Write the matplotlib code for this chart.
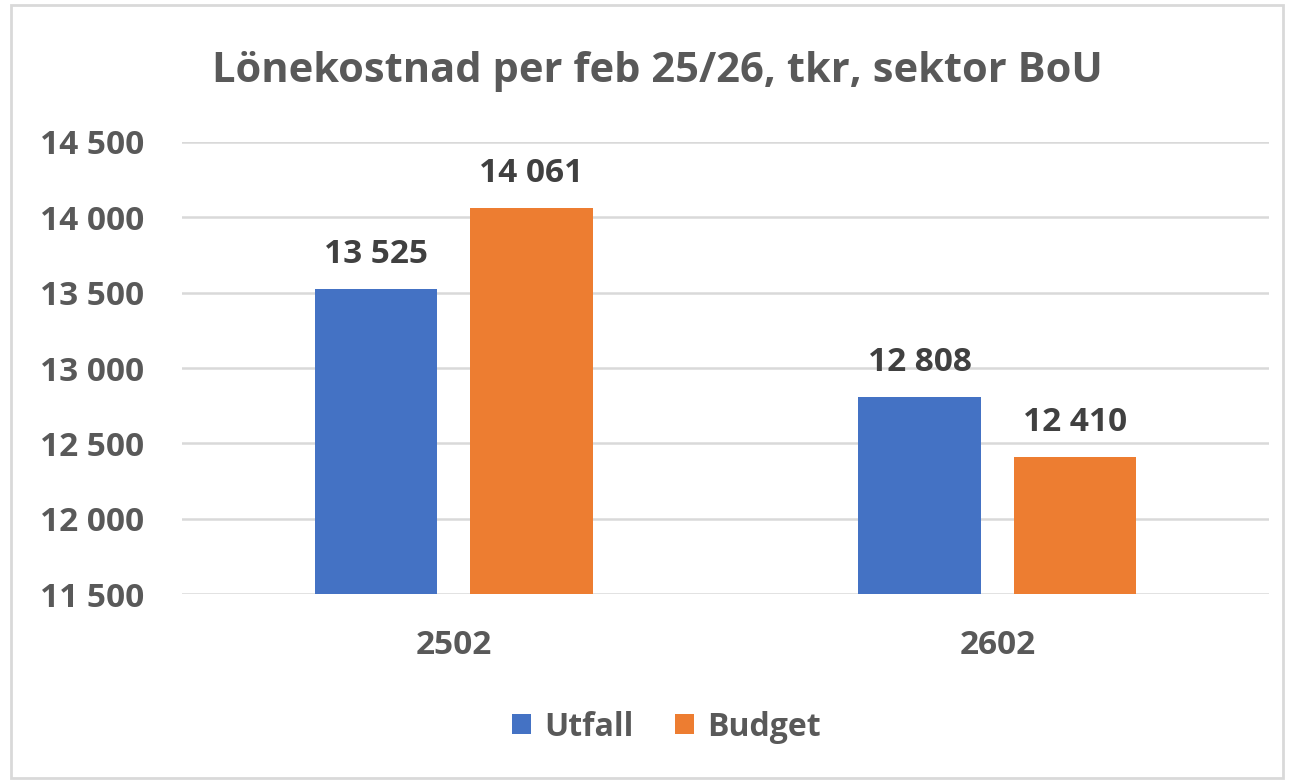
import matplotlib.pyplot as plt
import numpy as np
from matplotlib.patches import Rectangle

plt.rcParams['font.family'] = ['Open Sans', 'DejaVu Sans']

# data
kategorier = ['2502', '2602']
utfall = [13525, 12808]
budget = [14061, 12410]
serier = ['Utfall', 'Budget']
farger = ['#4472C4', '#ED7D31']
yticks = [11500, 12000, 12500, 13000, 13500, 14000, 14500]

gra = '#595959'

fig = plt.figure(figsize=(12.89, 7.81), dpi=100)
ax = fig.add_axes([0.1412, 0.2394, 0.8433, 0.5788])

x = np.arange(len(kategorier))
b = 0.225
off = 0.143
bars1 = ax.bar(x - off, utfall, b, color=farger[0], label=serier[0], zorder=3)
bars2 = ax.bar(x + off, budget, b, color=farger[1], label=serier[1], zorder=3)

def fmt(v):
    return f'{v:,}'.replace(',', ' ')

for bars in (bars1, bars2):
    for r in bars:
        h = r.get_height()
        ax.annotate(fmt(int(h)), (r.get_x() + r.get_width() / 2, h),
                    xytext=(0, 13), textcoords='offset points',
                    ha='center', va='bottom', fontsize=24, fontweight='bold', color='#404040')

ax.set_xlim(-0.5, 1.5)
ax.set_ylim(11500, 14500)
ax.set_yticks(yticks)
ax.set_yticklabels([fmt(v) for v in yticks])
ax.set_xticks(x)
ax.set_xticklabels(kategorier)
ax.tick_params(axis='y', length=0, pad=27, labelsize=24, labelcolor=gra)
ax.tick_params(axis='x', length=0, pad=25, labelsize=24, labelcolor=gra)
for t in ax.get_yticklabels() + ax.get_xticklabels():
    t.set_fontweight('bold')
ax.grid(axis='y', color='#D9D9D9', linewidth=1.8, zorder=0)
for s in ax.spines.values():
    s.set_visible(False)

fig.text(0.51, 0.908, 'Lönekostnad per feb 25/26, tkr, sektor BoU', ha='center', va='center',
         fontsize=30, fontweight='bold', color=gra)

leg = fig.legend(loc='center', bbox_to_anchor=(0.517, 0.069), ncol=2, frameon=False,
                 fontsize=23, handlelength=0.6, handleheight=0.6, columnspacing=1.3, handletextpad=0.4)
for t in leg.get_texts():
    t.set_color(gra)
    t.set_fontweight('bold')

# ram runt diagrammet
fig.patches.append(Rectangle((0.0085, 0.004), 0.987, 0.99, transform=fig.transFigure,
                             fill=False, edgecolor='#D9D9D9', linewidth=2))

fig.savefig('out.png', dpi=100)
